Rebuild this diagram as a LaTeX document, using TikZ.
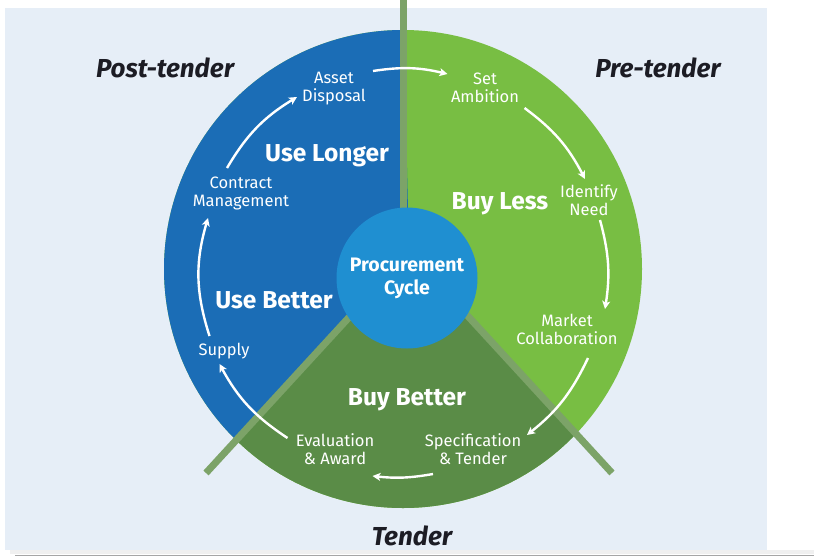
\documentclass[tikz,border=0pt]{standalone}
\usepackage{fontspec}
\setmainfont{Fira Sans}
\usetikzlibrary{arrows.meta}

\definecolor{paleback}{HTML}{E6EEF7}
\definecolor{useblue}{HTML}{1B6DB6}
\definecolor{lessgreen}{HTML}{78BE43}
\definecolor{bettergreen}{HTML}{5A8C47}
\definecolor{divgreen}{HTML}{7CA368}
\definecolor{hubblue}{HTML}{1F8FD1}
\definecolor{phaseink}{HTML}{1C1C24}

\begin{document}
\begin{tikzpicture}[
  x=1pt, y=1pt,
  stage/.style={text=white, align=center, inner sep=1pt,
                font=\fontsize{16.5}{18}\selectfont},
  pillar/.style={text=white, anchor=base, font=\fontsize{24.5}{26}\selectfont\bfseries},
  phase/.style={text=phaseink, anchor=base, font=\fontsize{26}{28}\selectfont\bfseries\itshape},
  divider/.style={divgreen, line width=7pt},
  flow/.style={white, line width=2.4pt, -{Stealth[length=8pt, width=8pt, inset=2pt]}}
]
\useasboundingbox (0,0) rectangle (814,-557);
\fill[paleback] (5,-8) rectangle (767,-550);
\fill[gray!12] (10,-550) rectangle (814,-554);
\draw[gray!70, line width=1.5pt] (15,-555.5) -- (814,-555.5);

% the three sectors of the wheel
\begin{scope}
  \clip (403,-269) circle[radius=239];
  \fill[lessgreen] (0,0) rectangle (814,-557);
  \fill[useblue] (0,0) -- (403,0) -- (409,-252) -- (99,-590) -- (0,-590) -- cycle;
  \fill[bettergreen] (409,-252) -- (99,-590) -- (719,-590) -- cycle;
\end{scope}

% divider bars
\coordinate (apex) at (409,-252);
\coordinate (topend) at (403,0);
\coordinate (leftend) at (206,-473);
\coordinate (rightend) at (612,-473);
\draw[divider] (403,-252) -- (topend);
\draw[divider] (apex) -- (leftend);
\draw[divider] (apex) -- (rightend);

\node[circle, fill=hubblue, minimum size=141pt, inner sep=0pt, text=white, align=center,
      font=\fontsize{19.5}{23}\selectfont\bfseries] (hub) at (407,-278) {Procurement\\Cycle};

% phases
\node[phase] (post) at (165,-77) {Post-tender};
\node[phase] (pre) at (658,-77) {Pre-tender};
\node[phase] (tender) at (412,-545) {Tender};

% pillars
\node[pillar] (longer) at (327,-161) {Use Longer};
\node[pillar] (less) at (500,-209) {Buy Less};
\node[pillar] (usebetter) at (274,-308) {Use Better};
\node[pillar] (buybetter) at (407,-405) {Buy Better};

% stages round the cycle
\node[stage] (asset) at (334,-89) {Asset\\Disposal};
\node[stage] (set) at (485,-88) {Set\\Ambition};
\node[stage] (identify) at (589,-200) {Identify\\Need};
\node[stage] (market) at (567,-329) {Market\\Collaboration};
\node[stage] (spec) at (473,-449) {Specification\\\& Tender};
\node[stage] (award) at (335,-449) {Evaluation\\\& Award};
\node[stage] (supply) at (224,-351) {Supply};
\node[stage] (contract) at (241,-193) {Contract\\Management};

\draw[flow] ([shift={(39,18)}]asset.center) to[bend left=11] ([shift={(-37.5,14)}]set.center);
\draw[flow] ([shift={(39.5,-20)}]set.center) to[bend left=13] ([shift={(-4,21)}]identify.center);
\draw[flow] ([shift={(11,-20)}]identify.center) to[bend left=12] ([shift={(38,20)}]market.center);
\draw[flow] ([shift={(21,-29)}]market.center) to[bend left=13] ([shift={(54,14)}]spec.center);
\draw[flow] ([shift={(-40,-25)}]spec.center) to[bend left=8] ([shift={(37.5,-27)}]award.center);
\draw[flow] ([shift={(-47.5,11)}]award.center) to[bend left=14] ([shift={(-4.5,-13)}]supply.center);
\draw[flow] ([shift={(-14.5,15)}]supply.center) to[bend left=17] ([shift={(-33,-25)}]contract.center);
\draw[flow] ([shift={(-14,25)}]contract.center) to[bend left=14] ([shift={(-37,-8)}]asset.center);
\end{tikzpicture}
\end{document}
